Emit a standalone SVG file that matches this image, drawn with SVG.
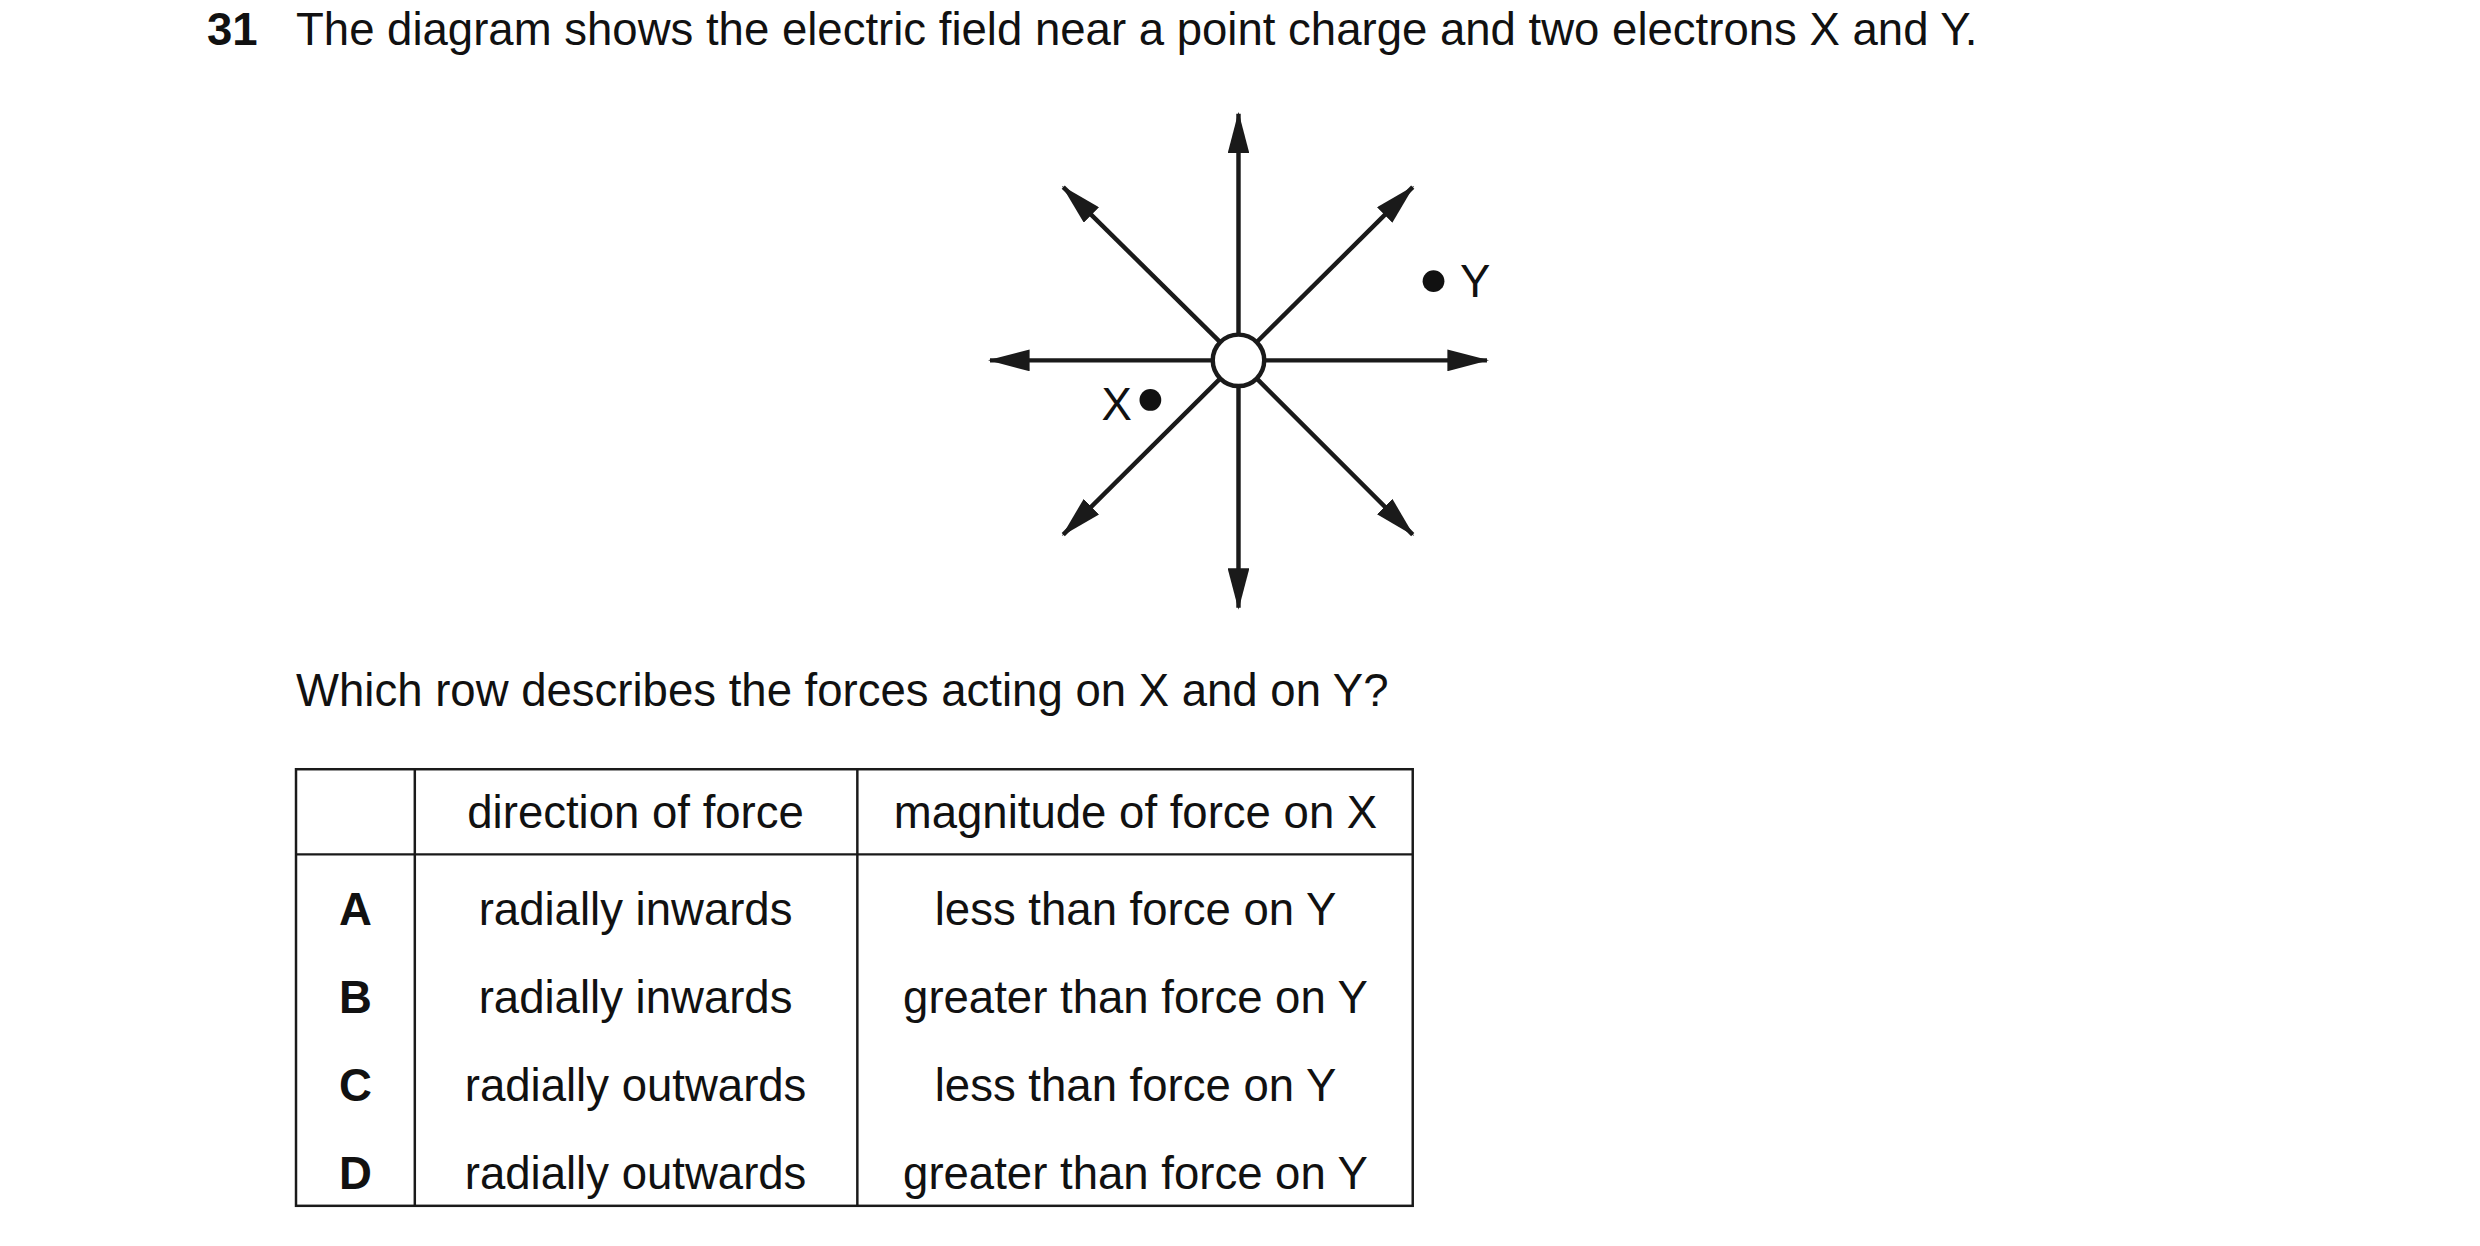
<svg xmlns="http://www.w3.org/2000/svg" width="2480" height="1246" viewBox="0 0 2480 1246">
<style>
text{font-family:"Liberation Sans",Arial,sans-serif;font-size:46px;fill:#111}
.b{font-weight:bold}
.c{text-anchor:middle}
.fl{stroke:#1a1a1a;stroke-width:4.5;fill:none}
.tb{stroke:#1a1a1a;stroke-width:2.5;fill:none}
</style>
<defs>
<marker id="ah" viewBox="0 0 42 22" refX="40" refY="11" markerWidth="42" markerHeight="22" markerUnits="userSpaceOnUse" orient="auto">
<path d="M0,0 L42,11 L0,22 Z" fill="#1a1a1a"/>
</marker>
</defs>
<rect width="2480" height="1246" fill="#fff"/>
<g transform="scale(0.99)">
<g id="title">
<text x="209" y="45" class="b">31</text>
<text x="299" y="45">The diagram shows the electric field near a point charge and two electrons X and Y.</text>
</g>
<g id="connectors">
<line class="fl" x1="1251" y1="338" x2="1251" y2="115" marker-end="url(#ah)"/>
<line class="fl" x1="1251" y1="390" x2="1251" y2="614" marker-end="url(#ah)"/>
<line class="fl" x1="1225" y1="364" x2="1000" y2="364" marker-end="url(#ah)"/>
<line class="fl" x1="1277" y1="364" x2="1502" y2="364" marker-end="url(#ah)"/>
<line class="fl" x1="1233" y1="346" x2="1074" y2="189" marker-end="url(#ah)"/>
<line class="fl" x1="1269" y1="346" x2="1427" y2="189" marker-end="url(#ah)"/>
<line class="fl" x1="1233" y1="382" x2="1074" y2="540" marker-end="url(#ah)"/>
<line class="fl" x1="1269" y1="382" x2="1427" y2="540" marker-end="url(#ah)"/>
</g>
<g id="charge"><circle cx="1251" cy="364" r="26" fill="#fff" stroke="#1a1a1a" stroke-width="4.5"/></g>
<g id="electronX"><circle cx="1162" cy="404" r="11" fill="#111"/><text x="1128" y="424" class="c">X</text></g>
<g id="electronY"><circle cx="1448" cy="284" r="11" fill="#111"/><text x="1490" y="300" class="c">Y</text></g>
<g id="question"><text x="299" y="713">Which row describes the forces acting on X and on Y?</text></g>
<g id="table">
<rect class="tb" x="299" y="777" width="1128" height="441"/>
<line class="tb" x1="299" y1="863" x2="1427" y2="863"/>
<line class="tb" x1="419" y1="777" x2="419" y2="1218"/>
<line class="tb" x1="866" y1="777" x2="866" y2="1218"/>
<text x="642" y="836" class="c">direction of force</text>
<text x="1147" y="836" class="c">magnitude of force on X</text>
<text x="359" y="934" class="c b">A</text><text x="642" y="934" class="c">radially inwards</text><text x="1147" y="934" class="c">less than force on Y</text>
<text x="359" y="1023" class="c b">B</text><text x="642" y="1023" class="c">radially inwards</text><text x="1147" y="1023" class="c">greater than force on Y</text>
<text x="359" y="1112" class="c b">C</text><text x="642" y="1112" class="c">radially outwards</text><text x="1147" y="1112" class="c">less than force on Y</text>
<text x="359" y="1201" class="c b">D</text><text x="642" y="1201" class="c">radially outwards</text><text x="1147" y="1201" class="c">greater than force on Y</text>
</g>
</g>
</svg>
